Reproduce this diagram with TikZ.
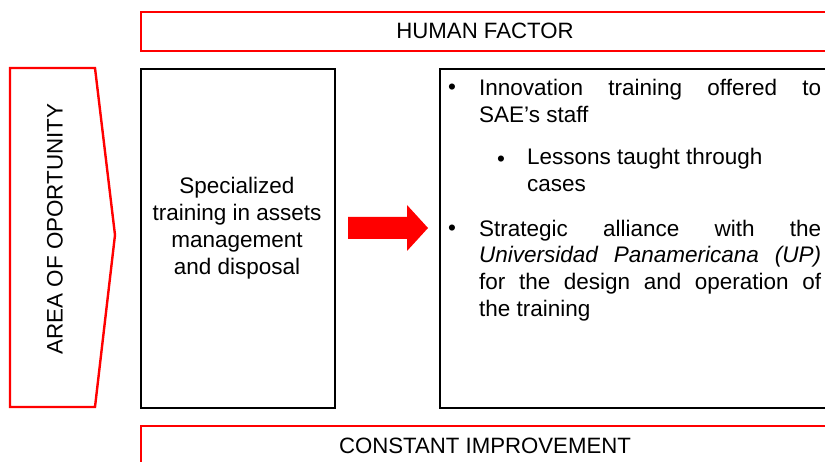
\documentclass[tikz,border=0pt]{standalone}
\usepackage{fontspec}
\setmainfont{Liberation Sans}
\begin{document}
\begin{tikzpicture}[x=1pt,y=-1pt,
  redbar/.style={draw=red, line width=2pt, fill=white, inner sep=0pt, anchor=north west},
  blackbox/.style={draw=black, line width=2pt, fill=white, inner sep=0pt, anchor=north west},
  body/.style={font=\fontsize{22.5}{27}\selectfont, inner sep=0pt, align=left},
  bartext/.style={font=\fontsize{22.2}{27}\selectfont, inner sep=0pt, anchor=base},
  bulletmark/.style={font=\fontsize{22.5}{27}\selectfont, inner sep=0pt, anchor=base west}]
\useasboundingbox (0,0) rectangle (825,462);
\fill[white] (0,0) rectangle (825,462);
\begin{scope}
\clip (0,0) rectangle (825,462);
% top and bottom bars
\node[redbar, minimum width=720pt, minimum height=39pt] (hf) at (140,11.5) {};
\node[bartext] (hftext) at (485,39) {HUMAN FACTOR};
\node[redbar, minimum width=720pt, minimum height=60pt] (ci) at (140,425) {};
\node[bartext] (citext) at (485,453) {CONSTANT IMPROVEMENT};
% left pentagon
\draw[draw=red, line width=2.4pt, fill=white, line join=miter]
  (10,68) -- (95,68) -- (115,235) -- (95,407) -- (10,407) -- cycle;
\node[rotate=90, inner sep=0pt, font=\fontsize{22.4}{27}\selectfont] (aot) at (55,229) {AREA OF OPORTUNITY};
% middle box
\node[blackbox, minimum width=194pt, minimum height=339pt] (mid) at (140,68) {};
\node[body, align=center, anchor=base, font=\fontsize{22.5}{27.3}\selectfont] (midtext) at (237,275)
  {Specialized\\training in assets\\management\\and disposal};
% arrow
\fill[red] (348,217) -- (407,217) -- (407,205) -- (428,228) -- (407,251) -- (407,239) -- (348,239) -- cycle;
% right box
\node[blackbox, minimum width=420pt, minimum height=339pt] (right) at (439,68) {};
\node[bulletmark] (b1) at (448,95) {•};
\node[body, anchor=base west] (p1) at (479,123)
  {\makebox[342pt][s]{Innovation training offered to}\\SAE’s staff};
\node[bulletmark] (b2) at (497,167) {•};
\node[body, anchor=base west] (p2) at (527,192) {Lessons taught through\\cases};
\node[bulletmark] (b3) at (448,236) {•};
\node[body, anchor=base west] (p3) at (479,317)
  {\makebox[342pt][s]{Strategic alliance with the}\\
   \makebox[342pt][s]{\itshape Universidad Panamericana (UP)}\\
   \makebox[342pt][s]{for the design and operation of}\\
   the training};
\end{scope}
\end{tikzpicture}
\end{document}
